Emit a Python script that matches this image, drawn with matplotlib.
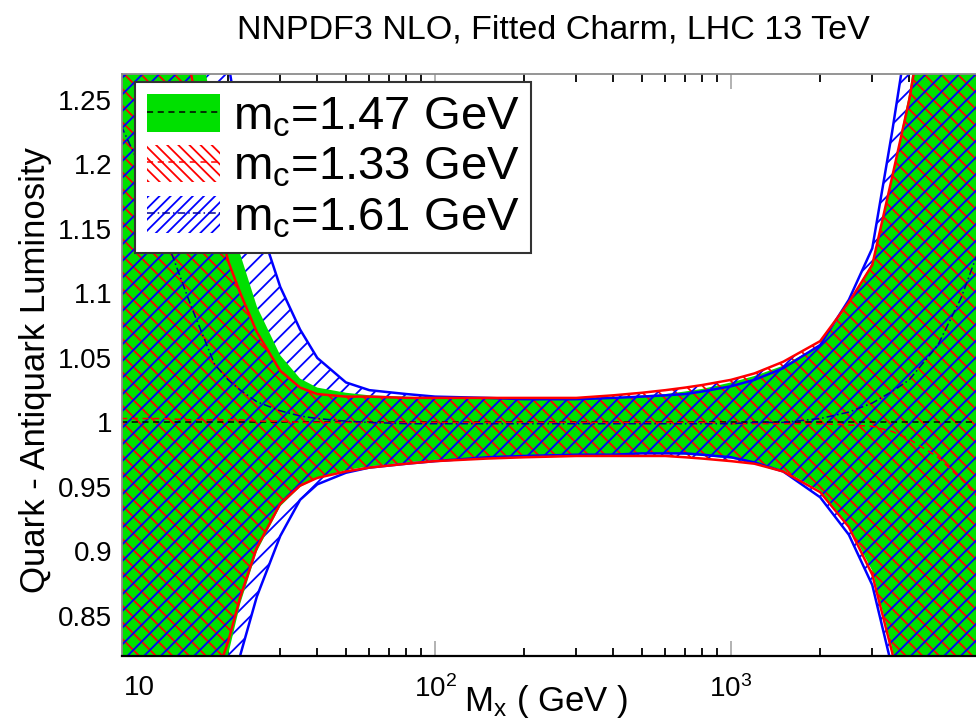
import matplotlib
matplotlib.use("Agg")
import matplotlib.pyplot as plt
from matplotlib.patches import Patch
from matplotlib.lines import Line2D
from matplotlib.ticker import FixedLocator, LogLocator, NullFormatter

plt.rcParams['font.family'] = ['Liberation Sans', 'DejaVu Sans']
plt.rcParams['mathtext.fontset'] = 'custom'
plt.rcParams['mathtext.rm'] = 'Liberation Sans'
plt.rcParams['mathtext.it'] = 'Liberation Sans:italic'
plt.rcParams['hatch.linewidth'] = 1.3

# invariant mass grid (GeV)
mass = [8.7, 10, 12, 15, 18, 20, 22, 25, 30, 35, 40, 50, 60, 80, 100, 150, 200,
        300, 400, 500, 600, 700, 800, 1000, 1200, 1500, 2000, 2500, 3000, 3500,
        4000, 5000, 6000, 7300]

# mc = 1.47 GeV (reference), ratio to its own central value
mc147_up = [1.65, 1.58, 1.46, 1.34, 1.23, 1.17, 1.13, 1.09, 1.052, 1.034, 1.027,
            1.023, 1.021, 1.020, 1.019, 1.019, 1.018, 1.018, 1.019, 1.021, 1.022,
            1.024, 1.026, 1.031, 1.036, 1.044, 1.060, 1.092, 1.124, 1.19, 1.255,
            1.40, 1.55, 1.70]
mc147_lo = [0.50, 0.55, 0.63, 0.72, 0.79, 0.82, 0.86, 0.90, 0.935, 0.950, 0.957,
            0.963, 0.966, 0.969, 0.971, 0.973, 0.974, 0.975, 0.975, 0.976, 0.976,
            0.975, 0.974, 0.972, 0.969, 0.963, 0.947, 0.920, 0.885, 0.825, 0.76,
            0.66, 0.58, 0.50]
mc147_mid = [1.0, 1.0, 1.0, 1.0, 1.0, 1.0, 1.0, 1.0, 1.0, 1.0, 1.0, 1.0, 1.0,
             1.0, 1.0, 1.0, 1.0, 1.0, 1.0, 1.0, 1.0, 1.0, 1.0, 1.0, 1.0, 1.0,
             1.0, 1.0, 1.0, 1.0, 1.0, 1.0, 1.0, 1.0]

# mc = 1.33 GeV
mc133_up = [1.57, 1.50, 1.38, 1.27, 1.17, 1.125, 1.10, 1.07, 1.04, 1.027, 1.022,
            1.020, 1.020, 1.019, 1.019, 1.019, 1.019, 1.019, 1.021, 1.023, 1.025,
            1.027, 1.029, 1.033, 1.038, 1.047, 1.063, 1.093, 1.122, 1.19, 1.25,
            1.38, 1.52, 1.66]
mc133_lo = [0.53, 0.58, 0.655, 0.735, 0.80, 0.83, 0.865, 0.903, 0.937, 0.951,
            0.957, 0.962, 0.965, 0.968, 0.970, 0.972, 0.973, 0.974, 0.974, 0.974,
            0.974, 0.973, 0.972, 0.970, 0.968, 0.962, 0.946, 0.919, 0.882, 0.822,
            0.755, 0.65, 0.57, 0.49]
mc133_mid = [1.003, 1.003, 1.003, 1.002, 1.002, 1.002, 1.002, 1.001, 1.001, 1.0,
             1.0, 1.0, 1.0, 1.0, 1.0, 1.0, 1.0, 1.0, 1.0, 1.0, 1.0, 1.0, 1.0,
             0.999, 0.999, 0.999, 0.999, 0.998, 0.997, 0.993, 0.987, 0.973, 0.956,
             0.935]

# mc = 1.61 GeV
mc161_up = [2.00, 1.90, 1.75, 1.55, 1.38, 1.28, 1.22, 1.16, 1.105, 1.072, 1.05,
            1.031, 1.025, 1.022, 1.020, 1.019, 1.018, 1.018, 1.019, 1.020, 1.021,
            1.022, 1.024, 1.028, 1.033, 1.042, 1.060, 1.095, 1.135, 1.225, 1.31,
            1.47, 1.63, 1.80]
mc161_lo = [0.45, 0.50, 0.57, 0.66, 0.74, 0.785, 0.82, 0.865, 0.912, 0.940, 0.952,
            0.961, 0.965, 0.968, 0.970, 0.973, 0.974, 0.975, 0.975, 0.976, 0.976,
            0.976, 0.975, 0.973, 0.969, 0.962, 0.942, 0.913, 0.874, 0.81, 0.745,
            0.64, 0.55, 0.47]
mc161_mid = [1.23, 1.20, 1.15, 1.09, 1.045, 1.033, 1.025, 1.016, 1.009, 1.005,
             1.003, 1.001, 1.0, 0.999, 0.999, 0.999, 0.999, 0.999, 0.999, 0.999,
             0.999, 0.999, 0.999, 0.999, 1.0, 1.0, 1.003, 1.008, 1.015, 1.024,
             1.033, 1.06, 1.097, 1.15]

yticks = [0.85, 0.9, 0.95, 1.0, 1.05, 1.1, 1.15, 1.2, 1.25]
ytick_labels = ['0.85', '0.9', '0.95', '1', '1.05', '1.1', '1.15', '1.2', '1.25']
xticks = [10, 100, 1000]
xtick_labels = ['10', '$10^2$', '$10^3$']

GREEN = '#00e000'

fig = plt.figure(figsize=(9.76, 7.19), dpi=100)
ax = fig.add_axes([122 / 976, 63 / 719, 863 / 976, 582 / 719])
ax.set_xscale('log')

# blue band: hatch only shows where it sticks out of the green one
ax.fill_between(mass, mc161_lo, mc161_up, facecolor='none', edgecolor='blue',
                hatch='//', linewidth=0, zorder=1)
ax.fill_between(mass, mc147_lo, mc147_up, facecolor=GREEN, edgecolor='none',
                linewidth=0, zorder=1.1)
ax.fill_between(mass, mc133_lo, mc133_up, facecolor='none', edgecolor='red',
                hatch='\\\\', linewidth=0, zorder=1.2)
ax.fill_between(mass, mc133_lo, mc133_up, facecolor='none', edgecolor='blue',
                hatch='//', linewidth=0, zorder=1.3)

# band edges
for y in (mc161_up, mc161_lo):
    ax.plot(mass, y, color='blue', lw=1.8, zorder=2)
for y in (mc133_up, mc133_lo):
    ax.plot(mass, y, color='red', lw=1.8, zorder=2.1)

# central values
ax.plot(mass, mc147_mid, color='k', lw=1.1, ls=(0, (4, 3)), zorder=2.2)
ax.plot(mass, mc133_mid, color='red', lw=1.1, ls=(0, (4, 3)), zorder=2.2)
ax.plot(mass, mc161_mid, color='#000099', lw=1.1, ls=(0, (5, 2, 1, 2)), zorder=2.2)

ax.set_xlim(8.76, 7210)
ax.set_ylim(0.819, 1.270)
ax.set_axisbelow(True)

ax.xaxis.set_major_locator(FixedLocator(xticks))
ax.set_xticklabels(xtick_labels)
ax.xaxis.set_minor_locator(LogLocator(base=10, subs=range(2, 10)))
ax.xaxis.set_minor_formatter(NullFormatter())
ax.set_yticks(yticks)
ax.set_yticklabels(ytick_labels)

ax.tick_params(which='both', direction='in', top=True, right=True, labelsize=20)
ax.tick_params(axis='x', which='major', length=11, width=1.2, color='0.65', pad=14)
ax.tick_params(axis='x', which='minor', length=6, width=1.3, color='k')
ax.tick_params(axis='y', which='major', length=6, pad=7)

for side in ('top', 'left'):
    ax.spines[side].set_color('0.55')
    ax.spines[side].set_linewidth(1.3)
ax.spines['bottom'].set_linewidth(1.6)
ax.spines['right'].set_visible(False)

ax.set_xlabel(r'$\mathrm{M_x}$ ( GeV )', fontsize=25)
ax.xaxis.set_label_coords((546 - 122) / 863, -0.078)
ax.xaxis.label.set_va('center')
ax.set_ylabel('Quark - Antiquark Luminosity', fontsize=25)
ax.yaxis.set_label_coords(-0.100, 0.491)
ax.yaxis.label.set_va('center')

fig.text(553 / 976, 1 - 30 / 719, 'NNPDF3 NLO, Fitted Charm, LHC 13 TeV',
         fontsize=24.5, ha='center', va='center')

handles = [
    (Patch(facecolor=GREEN, edgecolor='none'),
     Line2D([], [], color='k', lw=1.1, ls=(0, (4, 3)))),
    (Patch(facecolor='none', edgecolor='red', hatch='\\\\\\', lw=0),
     Line2D([], [], color='red', lw=1.1, ls=(0, (4, 3)))),
    (Patch(facecolor='none', edgecolor='blue', hatch='///', lw=0),
     Line2D([], [], color='#000099', lw=1.1, ls=(0, (5, 2, 1, 2)))),
]
labels = [r'$\mathrm{m_c}$=1.47 GeV', r'$\mathrm{m_c}$=1.33 GeV',
          r'$\mathrm{m_c}$=1.61 GeV']
leg = ax.legend(handles, labels, loc='upper left', bbox_to_anchor=(0.015, 0.986),
                borderaxespad=0, fontsize=34, handlelength=1.55, handleheight=0.85,
                handletextpad=0.27, labelspacing=0.12, borderpad=0.25,
                fancybox=False, framealpha=1, edgecolor='0.2')
leg.get_frame().set_linewidth(1.5)
leg.set_zorder(5)

fig.savefig('out.png', dpi=100)
